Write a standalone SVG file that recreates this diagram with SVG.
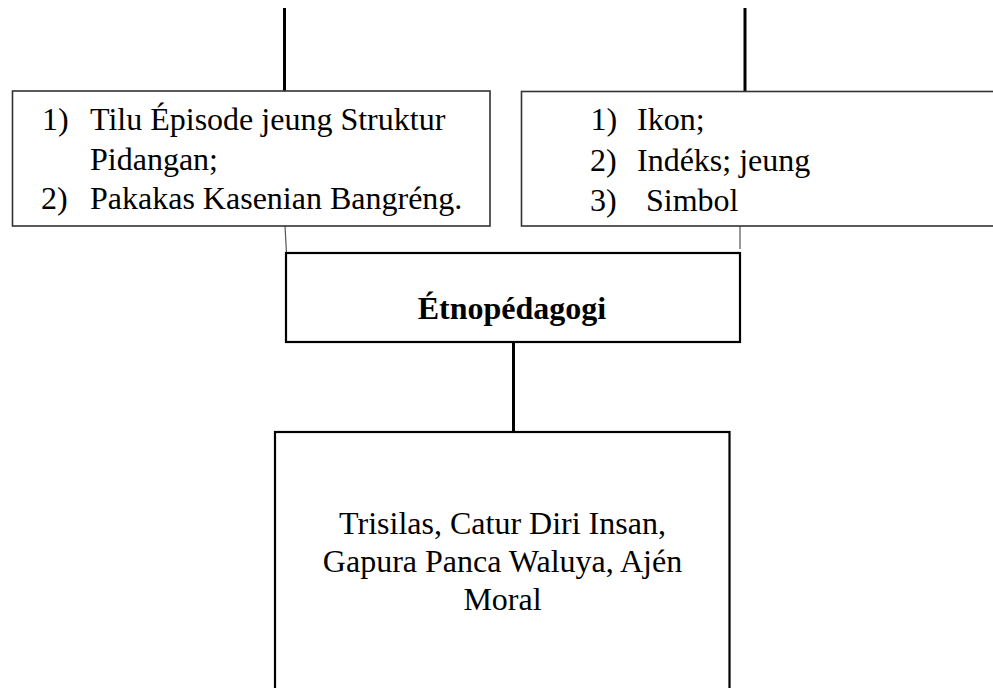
<svg xmlns="http://www.w3.org/2000/svg" width="993" height="688" viewBox="0 0 993 688">
<style>
text{font-family:'Liberation Serif','Times New Roman',Times,'DejaVu Serif',serif;font-size:32px;fill:#000}
.b{font-weight:bold}
.box{fill:#fff;stroke:#333;stroke-width:1.6}
.box2{fill:#fff;stroke:#000;stroke-width:2.2}
.thick{stroke:#000;stroke-width:3;fill:none}
.thin{stroke:#555;stroke-width:1.2;fill:none}
</style>
<rect width="993" height="688" fill="#fff"/>
<g id="connectors">
<line class="thick" x1="284.5" y1="8" x2="284.5" y2="91"/>
<line class="thick" x1="745" y1="8" x2="745" y2="91"/>
<line class="thin" x1="285" y1="226" x2="286.5" y2="253"/>
<line class="thin" x1="740" y1="226" x2="740" y2="249"/>
<line class="thick" x1="513.5" y1="342" x2="513.5" y2="432"/>
</g>
<g id="node-left" font-family="Liberation Serif, serif">
<rect class="box" x="12.5" y="91" width="477.5" height="135"/>
<text x="42" y="130">1)</text>
<text x="90" y="130">Tilu Épisode jeung Struktur</text>
<text x="90" y="169.5">Pidangan;</text>
<text x="41" y="209">2)</text>
<text x="90" y="209">Pakakas Kasenian Bangréng.</text>
</g>
<g id="node-right">
<rect class="box" x="521.5" y="91.5" width="480" height="134.5"/>
<text x="590.5" y="130">1)</text>
<text x="637" y="130">Ikon;</text>
<text x="590" y="170.5">2)</text>
<text x="637" y="170.5">Indéks; jeung</text>
<text x="590" y="211">3)</text>
<text x="646" y="211">Simbol</text>
</g>
<g id="node-etno">
<rect class="box2" x="286" y="253" width="454" height="89"/>
<text class="b" x="512" y="318.5" text-anchor="middle">Étnopédagogi</text>
</g>
<g id="node-bottom">
<rect class="box2" x="275" y="432" width="454.5" height="270"/>
<text x="502.5" y="533.5" text-anchor="middle">Trisilas, Catur Diri Insan,</text>
<text x="502.5" y="571.5" text-anchor="middle">Gapura Panca Waluya, Ajén</text>
<text x="502.5" y="609.5" text-anchor="middle">Moral</text>
</g>
</svg>
